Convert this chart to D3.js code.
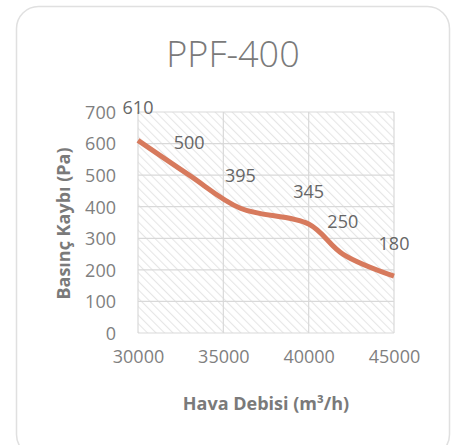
<!DOCTYPE html>
<html>
<head>
<meta charset="utf-8">
<script src="https://cdn.jsdelivr.net/npm/d3@7"></script>
<style>
  body { margin: 0; background: #fff; }
  text { font-family: "Open Sans", sans-serif; }
</style>
</head>
<body>
<div id="chart"></div>
<script>
// Values
var flowRates = [30000, 33000, 36000, 40000, 42000, 45000];   // Hava Debisi (m³/h)
var pressureLoss = [610, 500, 395, 345, 250, 180];            // Basınç Kaybı (Pa)
var xTicks = [30000, 35000, 40000, 45000];
var yTicks = [0, 100, 200, 300, 400, 500, 600, 700];

var W = 463, H = 445;
var margin = {top: 112, right: 69, bottom: 112, left: 138};
var width = W - margin.left - margin.right;
var height = H - margin.top - margin.bottom;

var svg = d3.select("#chart").append("svg")
    .attr("width", W)
    .attr("height", H);

// Hatch pattern for the plot area
var defs = svg.append("defs");
var pat = defs.append("pattern")
    .attr("id", "hatch")
    .attr("patternUnits", "userSpaceOnUse")
    .attr("width", 6)
    .attr("height", 6)
    .attr("patternTransform", "rotate(-45)");
pat.append("line")
    .attr("x1", 0).attr("y1", 0)
    .attr("x2", 0).attr("y2", 6)
    .attr("stroke", "#e6e6e6")
    .attr("stroke-width", 2.2);

// Card behind the chart
svg.append("rect")
    .attr("x", 16.5).attr("y", 6.5)
    .attr("width", 433).attr("height", 450)
    .attr("rx", 22)
    .attr("fill", "#fff")
    .attr("stroke", "#e0e0e0")
    .attr("stroke-width", 1.5);

var g = svg.append("g")
    .attr("transform", "translate(" + margin.left + "," + margin.top + ")");

var x = d3.scaleLinear().domain([30000, 45000]).range([0, width]);
var y = d3.scaleLinear().domain([0, 700]).range([height, 0]);

g.append("rect")
    .attr("width", width)
    .attr("height", height)
    .attr("fill", "url(#hatch)");

// Gridlines
g.append("g")
    .selectAll("line")
    .data(yTicks)
    .enter().append("line")
    .attr("x1", 0).attr("x2", width)
    .attr("y1", function (d) { return y(d); })
    .attr("y2", function (d) { return y(d); })
    .attr("stroke", "#d9d9d9")
    .attr("stroke-width", 1.2);

g.append("g")
    .selectAll("line")
    .data(xTicks)
    .enter().append("line")
    .attr("x1", function (d) { return x(d); })
    .attr("x2", function (d) { return x(d); })
    .attr("y1", 0).attr("y2", height)
    .attr("stroke", "#d9d9d9")
    .attr("stroke-width", 1.2);

// Axes (labels only)
var yAxis = g.append("g")
    .call(d3.axisLeft(y).tickValues(yTicks).tickSize(0).tickPadding(22));
var xAxis = g.append("g")
    .attr("transform", "translate(0," + height + ")")
    .call(d3.axisBottom(x).tickValues(xTicks).tickSize(0).tickPadding(17).tickFormat(d3.format("d")));

[yAxis, xAxis].forEach(function (ax) {
    ax.select(".domain").remove();
    ax.selectAll("text")
        .style("font-family", "'Open Sans', sans-serif")
        .style("font-size", "18px")
        .attr("fill", "#7f7f7f");
});
yAxis.selectAll("text").attr("dy", "0.35em");

// Smoothed line
var line = d3.line()
    .x(function (d) { return x(d[0]); })
    .y(function (d) { return y(d[1]); })
    .curve(d3.curveCatmullRom.alpha(0.5));

var pts = flowRates.map(function (d, i) { return [d, pressureLoss[i]]; });

g.append("path")
    .datum(pts)
    .attr("d", line)
    .attr("fill", "none")
    .attr("stroke", "#d77a5d")
    .attr("stroke-width", 5)
    .attr("stroke-linecap", "butt");

// Data labels above points
g.selectAll(".lbl")
    .data(pts)
    .enter().append("text")
    .attr("class", "lbl")
    .attr("x", function (d) { return x(d[0]); })
    .attr("y", function (d) { return y(d[1]) - 26; })
    .attr("text-anchor", "middle")
    .style("font-size", "18px")
    .attr("fill", "#666666")
    .text(function (d) { return d[1]; });

// Title
svg.append("text")
    .attr("x", 233)
    .attr("y", 67)
    .attr("text-anchor", "middle")
    .style("font-size", "36px")
    .style("font-weight", 300)
    .attr("fill", "#7a7a7a")
    .text("PPF-400");

// Axis titles
svg.append("text")
    .attr("x", 266)
    .attr("y", 410)
    .attr("text-anchor", "middle")
    .style("font-size", "18px")
    .style("font-weight", "bold")
    .attr("fill", "#7a7a7a")
    .text("Hava Debisi (m³/h)");

svg.append("text")
    .attr("transform", "translate(70," + (margin.top + height / 2 + 1) + ")rotate(-90)")
    .attr("text-anchor", "middle")
    .style("font-size", "18px")
    .style("font-weight", "bold")
    .attr("fill", "#7a7a7a")
    .text("Basınç Kaybı (Pa)");
</script>
</body>
</html>
